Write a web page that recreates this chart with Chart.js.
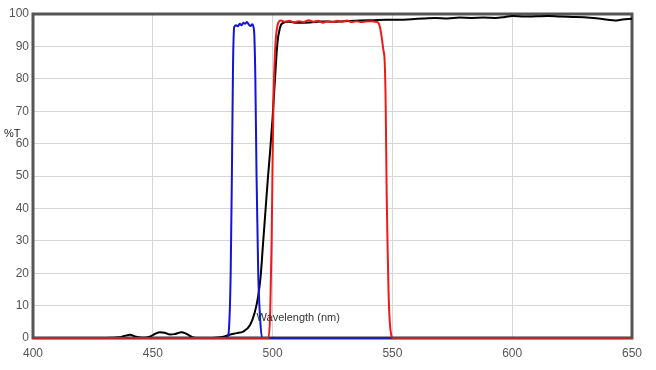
<!DOCTYPE html>
<html>
<head>
<meta charset="utf-8">
<script src="https://cdn.jsdelivr.net/npm/chart.js@4.4.0/dist/chart.umd.min.js"></script>
<style>
  html, body { margin: 0; padding: 0; background: #fff; }
  #wrap { width: 656px; height: 370px; position: relative; }
</style>
</head>
<body>
<div id="wrap"><canvas id="c" width="656" height="370"></canvas></div>
<script>
// ---- data ----
const xTicks = [400, 450, 500, 550, 600, 650];
const yTicks = [0, 10, 20, 30, 40, 50, 60, 70, 80, 90, 100];
const xTitle = 'Wavelength (nm)';
const yTitle = '%T';

const blackWl = [400, 430, 436, 438, 440.5, 443, 446, 449, 451, 453, 455, 457.2, 459, 462, 464, 466.8, 470, 476, 480, 482, 485, 487.7, 490.6, 492.6, 494, 495, 496, 497, 498, 499, 500, 501, 502, 503, 504, 507, 510, 515.6, 520, 525, 530, 536.5, 542, 547.6, 553, 558, 563, 568, 573, 578, 583, 588, 593, 597, 600, 605, 610, 615, 620, 625, 630, 635, 640, 643, 646, 650];
const blackT  = [0, 0, 0.2, 0.6, 1.0, 0.4, 0.1, 0.5, 1.3, 1.8, 1.6, 1.1, 1.2, 1.8, 1.3, 0.2, 0, 0.1, 0.5, 1.0, 1.5, 2.0, 4.0, 8.0, 13, 19, 29, 39, 49, 58, 68, 80, 91, 95.5, 97.1, 97.6, 97.3, 97.4, 97.7, 97.6, 97.8, 98, 98.1, 98.2, 98.2, 98.4, 98.6, 98.8, 98.6, 98.9, 98.8, 98.9, 98.8, 99.1, 99.4, 99.2, 99.3, 99.4, 99.2, 99.1, 99.0, 98.7, 98.2, 98.0, 98.3, 98.5];

const blueWl = [400, 481, 481.8, 482.5, 483, 483.5, 484, 484.8, 485.5, 486.3, 487, 487.8, 488.5, 489.3, 490, 490.8, 491.5, 492, 492.4, 492.8, 493.3, 494, 494.8, 495.6, 650];
const blueT  = [0, 0, 3, 20, 50, 85, 96, 96.5, 96.2, 97, 96.5, 97.3, 97, 97.5, 96.8, 96.3, 96.8, 96.1, 93, 80, 50, 20, 6, 0, 0];

const redWl = [400, 498.3, 499, 499.6, 500, 500.4, 501, 501.7, 502.5, 503.5, 505, 507, 509, 511, 513, 515, 517, 519, 521, 523, 525, 527, 529, 531, 533, 535, 537, 539, 541, 543, 544, 544.8, 545.5, 546.2, 546.8, 547.2, 547.6, 548, 548.4, 548.9, 549.5, 550.2, 650];
const redT  = [0, 0, 8, 30, 55, 75, 88, 95, 97.5, 98, 97.6, 97.9, 97.4, 97.8, 97.5, 98.1, 97.6, 97.9, 97.3, 97.8, 97.5, 97.9, 97.6, 98, 97.5, 97.8, 97.5, 97.7, 97.8, 97.6, 97.4, 96, 93, 89, 85, 72, 45, 28, 14, 5, 1, 0, 0];

function pts(xs, ys) { return xs.map((x, i) => ({ x: x, y: ys[i] })); }

const FONT = "'Liberation Sans', Arial, sans-serif";

const framePlugin = {
  id: 'frame',
  beforeDatasetsDraw(chart) {
    const a = chart.chartArea, ctx = chart.ctx;
    ctx.save();
    ctx.strokeStyle = '#555555';
    ctx.lineWidth = 3;
    ctx.strokeRect(a.left, a.top, a.right - a.left, a.bottom - a.top);
    ctx.restore();
  },
  afterDatasetsDraw(chart) {
    const a = chart.chartArea, ctx = chart.ctx;
    ctx.save();
    ctx.strokeStyle = 'rgba(70,70,70,0.3)';
    ctx.lineWidth = 3;
    ctx.beginPath();
    ctx.moveTo(a.left, a.bottom);
    ctx.lineTo(a.right, a.bottom);
    ctx.stroke();
    ctx.restore();
  },
  afterDraw(chart) {
    const ctx = chart.ctx, a = chart.chartArea;
    ctx.save();
    ctx.font = '11px ' + FONT;
    ctx.fillStyle = '#222';
    ctx.textBaseline = 'middle';
    ctx.textAlign = 'left';
    ctx.fillText(yTitle, 4, 134);
    ctx.fillStyle = '#333';
    const xs = chart.scales.x;
    ctx.fillText(xTitle, xs.getPixelForValue(493.3), a.bottom - 20);
    ctx.restore();
  }
};

new Chart(document.getElementById('c'), {
  type: 'line',
  data: {
    datasets: [
      { data: pts(redWl, redT), borderColor: '#ee1a1a', borderWidth: 2, pointRadius: 0, cubicInterpolationMode: 'monotone', clip: false },
      { data: pts(blueWl, blueT), borderColor: '#1414d4', borderWidth: 2, pointRadius: 0, cubicInterpolationMode: 'monotone', clip: false },
      { data: pts(blackWl, blackT), borderColor: '#000000', borderWidth: 2, pointRadius: 0, cubicInterpolationMode: 'monotone', clip: false }
    ]
  },
  options: {
    responsive: false,
    animation: false,
    events: [],
    layout: { padding: { top: 14, right: 24, left: 0, bottom: 0 } },
    plugins: { legend: { display: false }, tooltip: { enabled: false } },
    scales: {
      x: {
        type: 'linear', min: xTicks[0], max: xTicks[xTicks.length - 1],
        afterBuildTicks(s) { s.ticks = xTicks.map(v => ({ value: v })); },
        afterFit(s) { s.height = 32; },
        grid: { color: '#d6d6d6', lineWidth: 1, drawTicks: false },
        border: { display: false },
        ticks: { padding: 8, color: '#555', font: { family: FONT, size: 12 }, maxRotation: 0, autoSkip: false }
      },
      y: {
        type: 'linear', min: yTicks[0], max: yTicks[yTicks.length - 1],
        afterBuildTicks(s) { s.ticks = yTicks.map(v => ({ value: v })); },
        afterFit(s) { s.width = 33; },
        grid: { color: '#d6d6d6', lineWidth: 1, drawTicks: false },
        border: { display: false },
        ticks: { padding: 4, color: '#555', font: { family: FONT, size: 12 }, autoSkip: false }
      }
    }
  },
  plugins: [framePlugin]
});
</script>
</body>
</html>
